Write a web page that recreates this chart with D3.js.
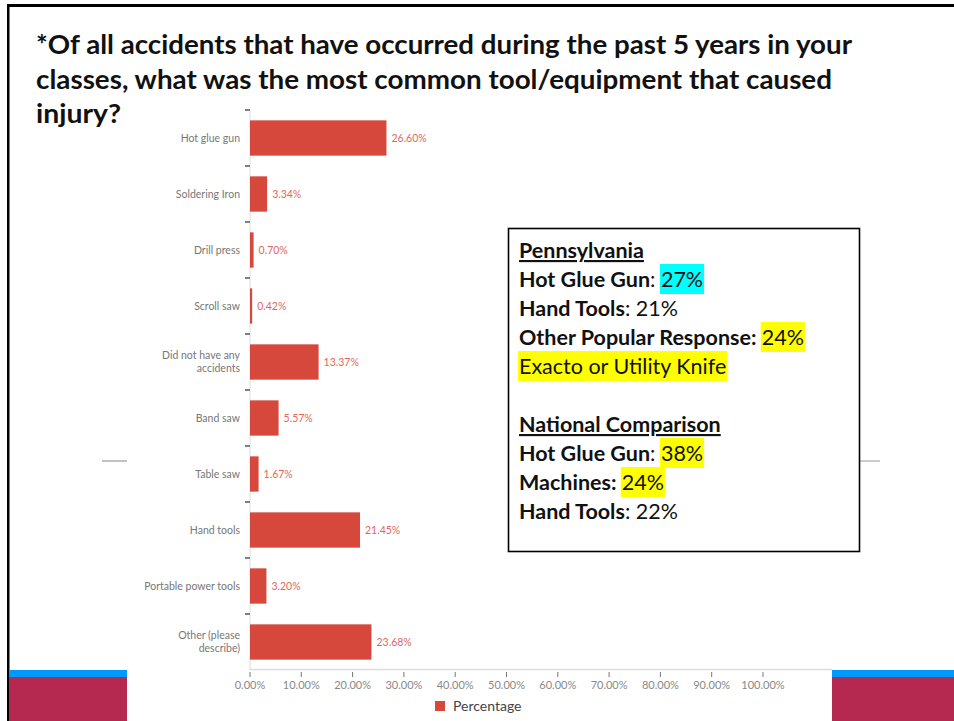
<!DOCTYPE html>
<html>
<head>
<meta charset="utf-8">
<script src="https://cdn.jsdelivr.net/npm/d3@7"></script>
<style>
  body { margin: 0; background: #fff; }
  svg { display: block; }
</style>
</head>
<body>
<script>
// _____________ data
var categories = ["Hot glue gun", "Soldering Iron", "Drill press", "Scroll saw",
  "Did not have any accidents", "Band saw", "Table saw", "Hand tools",
  "Portable power tools", "Other (please describe)"]
var categoryLines = [["Hot glue gun"], ["Soldering Iron"], ["Drill press"], ["Scroll saw"],
  ["Did not have any", "accidents"], ["Band saw"], ["Table saw"], ["Hand tools"],
  ["Portable power tools"], ["Other (please", "describe)"]]
var values = [26.60, 3.34, 0.70, 0.42, 13.37, 5.57, 1.67, 21.45, 3.20, 23.68]
var xTicks = [0, 10, 20, 30, 40, 50, 60, 70, 80, 90, 100]
var seriesName = "Percentage"

var titleLines = [
  "*Of all accidents that have occurred during the past 5 years in your",
  "classes, what was the most common tool/equipment that caused",
  "injury?"
]

// each line: list of pieces [text, bold, underline, highlight]
var boxLines = [
  [["Pennsylvania", true, true, null]],
  [["Hot Glue Gun", true, false, null], [": ", false, false, null], ["27%", false, false, "#00ffff"]],
  [["Hand Tools", true, false, null], [": 21%", false, false, null]],
  [["Other Popular Response: ", true, false, null], ["24%", false, false, "#ffff00"]],
  [["Exacto or Utility Knife", false, false, "#ffff00"]],
  [],
  [["National Comparison", true, true, null]],
  [["Hot Glue Gun", true, false, null], [": ", false, false, null], ["38%", false, false, "#ffff00"]],
  [["Machines: ", true, false, null], ["24%", false, false, "#ffff00"]],
  [["Hand Tools", true, false, null], [": 22%", false, false, null]]
]

var W = 954, H = 721
var barColor = "#d6473c"

var svg = d3.select("body").append("svg")
  .attr("width", W).attr("height", H)

// _____________ slide decoration
svg.append("rect").attr("x", 7).attr("y", 4).attr("width", W - 7).attr("height", 3).attr("fill", "#000")
svg.append("rect").attr("x", 7).attr("y", 4).attr("width", 2.5).attr("height", H - 4).attr("fill", "#000")

svg.append("rect").attr("x", 9).attr("y", 670).attr("width", 118).attr("height", 7).attr("fill", "#0099ff")
svg.append("rect").attr("x", 9).attr("y", 677).attr("width", 118).attr("height", 44).attr("fill", "#b5284f")
svg.append("rect").attr("x", 832).attr("y", 670).attr("width", W - 832).attr("height", 7).attr("fill", "#0099ff")
svg.append("rect").attr("x", 832).attr("y", 677).attr("width", W - 832).attr("height", 44).attr("fill", "#b5284f")

svg.append("line").attr("x1", 102).attr("x2", 127).attr("y1", 461).attr("y2", 461)
  .attr("stroke", "#999").attr("stroke-width", 1.2)
svg.append("line").attr("x1", 832).attr("x2", 880).attr("y1", 461).attr("y2", 461)
  .attr("stroke", "#999").attr("stroke-width", 1.2)

// _____________ title
var titleWidths = [816, 796, 85]
svg.append("g").selectAll("text")
  .data(titleLines)
  .enter().append("text")
    .attr("x", 36)
    .attr("y", function (d, i) { return 54 + i * 34.5 })
    .attr("textLength", function (d, i) { return titleWidths[i] })
    .attr("lengthAdjust", "spacingAndGlyphs")
    .style("font-family", "Lato, 'Open Sans', sans-serif")
    .style("font-weight", "bold")
    .style("font-size", "26.5px")
    .style("fill", "#111")
    .text(function (d) { return d })

// _____________ scales
var x = d3.scaleLinear().domain([0, 100]).range([250, 763])
var y = d3.scaleBand().domain(categories).range([110, 670])
  .paddingInner(0.37).paddingOuter(0.185)

var chart = svg.append("g").attr("class", "chart")
  .style("font-family", "Lato, 'Open Sans', sans-serif")

// axes lines
chart.append("line").attr("x1", x(0)).attr("x2", x(0)).attr("y1", 110).attr("y2", 670)
  .attr("stroke", "#ddd")
chart.append("line").attr("x1", x(0)).attr("x2", 832).attr("y1", 669.5).attr("y2", 669.5)
  .attr("stroke", "#ddd").attr("stroke-width", 1.5)

// y ticks at band edges
chart.selectAll("line.ytick")
  .data(d3.range(categories.length))
  .enter().append("line")
    .classed("ytick", true)
    .attr("x1", x(0) - 5).attr("x2", x(0))
    .attr("y1", function (i) { return y.range()[0] + i * y.step() })
    .attr("y2", function (i) { return y.range()[0] + i * y.step() })
    .attr("stroke", "#555").attr("stroke-width", 1.5)

// x ticks
chart.selectAll("line.xtick")
  .data(xTicks)
  .enter().append("line")
    .classed("xtick", true)
    .attr("x1", function (d) { return x(d) }).attr("x2", function (d) { return x(d) })
    .attr("y1", 672).attr("y2", 677)
    .attr("stroke", "#777")

chart.selectAll("text.xlabel")
  .data(xTicks)
  .enter().append("text")
    .classed("xlabel", true)
    .attr("x", function (d) { return x(d) })
    .attr("y", 688.5)
    .attr("text-anchor", "middle")
    .style("font-size", "11px")
    .style("fill", "#888")
    .text(function (d) { return d.toFixed(2) + "%" })

// bars
chart.selectAll("rect.bar")
  .data(values)
  .enter().append("rect")
    .classed("bar", true)
    .attr("x", x(0))
    .attr("y", function (d, i) { return y(categories[i]) })
    .attr("width", function (d) { return x(d) - x(0) })
    .attr("height", y.bandwidth())
    .attr("fill", barColor)

// value labels
chart.selectAll("text.val")
  .data(values)
  .enter().append("text")
    .classed("val", true)
    .attr("x", function (d) { return x(d) + 5 })
    .attr("y", function (d, i) { return y(categories[i]) + y.bandwidth() / 2 })
    .attr("dy", "0.35em")
    .style("font-size", "10.5px")
    .style("fill", "#e0675e")
    .text(function (d) { return d.toFixed(2) + "%" })

// category labels
var cat = chart.selectAll("text.cat")
  .data(categoryLines)
  .enter().append("text")
    .classed("cat", true)
    .attr("text-anchor", "end")
    .attr("y", function (d, i) { return y(categories[i]) + y.bandwidth() / 2 - (d.length - 1) * 6.5 })
    .style("font-size", "10.5px")
    .style("fill", "#777")

cat.selectAll("tspan")
  .data(function (d) { return d })
  .enter().append("tspan")
    .attr("x", 240)
    .attr("dy", function (d, i) { return i == 0 ? "0.35em" : "13px" })
    .text(function (d) { return d })

// legend
chart.append("rect").attr("x", 435).attr("y", 701).attr("width", 10).attr("height", 10)
  .attr("fill", barColor)
chart.append("text").attr("x", 453).attr("y", 711)
  .style("font-size", "14px").style("fill", "#444")
  .text(seriesName)

// _____________ text box
var box = svg.append("g").attr("class", "box")
box.append("rect").attr("x", 508.5).attr("y", 228.5).attr("width", 351).attr("height", 323)
  .attr("fill", "#fff").attr("stroke", "#000").attr("stroke-width", 1.6)

var hlLayer = box.append("g")
var lineH = 29
boxLines.forEach(function (line, li) {
  if (line.length == 0) return
  var t = box.append("text")
    .attr("x", 519)
    .attr("y", 258 + li * lineH)
    .style("font-family", "Lato, 'Open Sans', sans-serif")
    .style("font-size", "21.5px")
    .style("fill", "#111")
  var pos = 0
  line.forEach(function (p) {
    t.append("tspan")
      .style("font-weight", p[1] ? "bold" : "normal")
      .style("text-decoration", p[2] ? "underline" : "none")
      .text(p[0])
    if (p[3]) {
      var node = t.node()
      var a = node.getExtentOfChar(pos)
      var b = node.getExtentOfChar(pos + p[0].length - 1)
      hlLayer.append("rect")
        .attr("x", a.x - 1)
        .attr("y", 258 + li * lineH - 23)
        .attr("width", b.x + b.width - a.x + 2)
        .attr("height", 30)
        .attr("fill", p[3])
    }
    pos += p[0].length
  })
})
</script>
</body>
</html>
